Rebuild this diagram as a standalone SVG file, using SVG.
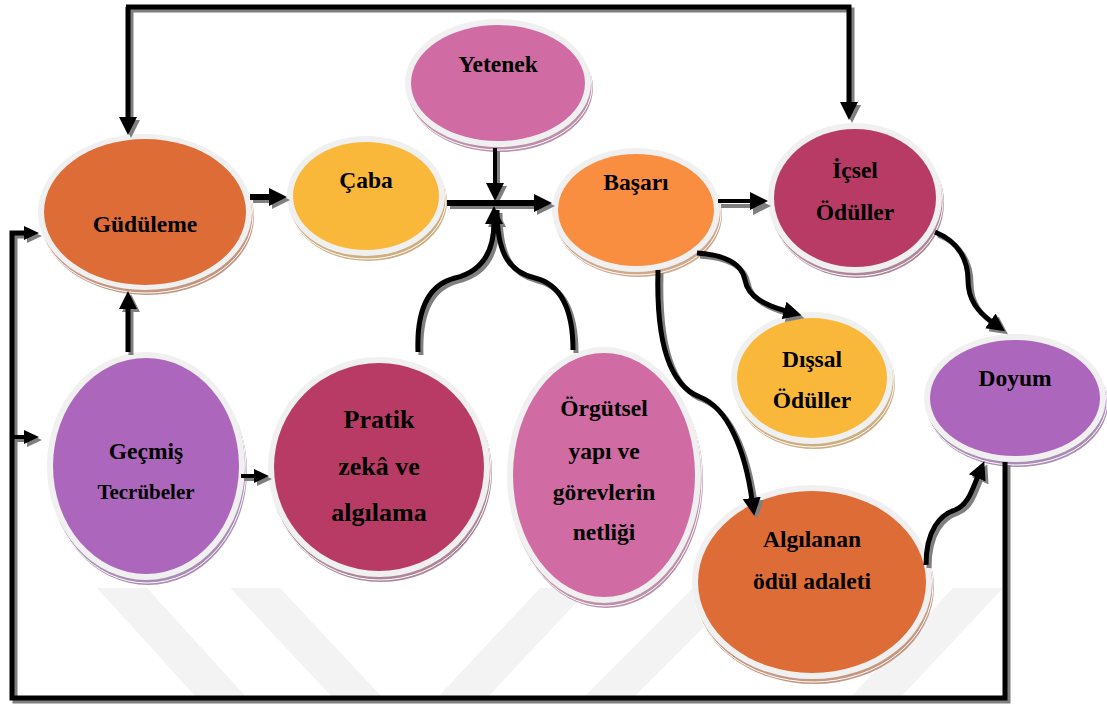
<svg xmlns="http://www.w3.org/2000/svg" width="1107" height="711" viewBox="0 0 1107 711">
<style>
.lbl{font-family:"Liberation Serif","Times New Roman",serif;font-weight:bold;font-size:23.5px;fill:#000;text-anchor:middle}
.ring{fill:#F0F0F0}
.rimw{fill:none;stroke:#FFFFFF;stroke-width:1}
.ln{fill:none;stroke:#000;stroke-linejoin:miter;stroke-linecap:butt}
.sh{fill:none;stroke:#7F7F7F;stroke-linejoin:miter;stroke-linecap:butt}
.wm{fill:#F3F3F3}
</style>
<defs>
<marker id="ah" markerUnits="userSpaceOnUse" markerWidth="20" markerHeight="20" refX="2" refY="9" orient="auto" viewBox="0 0 20 18"><path d="M0,0 L18,9 L0,18 z" fill="#000"/></marker>
<marker id="ahg" markerUnits="userSpaceOnUse" markerWidth="20" markerHeight="20" refX="2" refY="9" orient="auto" viewBox="0 0 20 18"><path d="M0,0 L18,9 L0,18 z" fill="#7F7F7F"/></marker>
<marker id="as" markerUnits="userSpaceOnUse" markerWidth="16" markerHeight="16" refX="2" refY="7" orient="auto" viewBox="0 0 16 14"><path d="M0,0 L15,7 L0,14 z" fill="#000"/></marker>
<marker id="asg" markerUnits="userSpaceOnUse" markerWidth="16" markerHeight="16" refX="2" refY="7" orient="auto" viewBox="0 0 16 14"><path d="M0,0 L15,7 L0,14 z" fill="#7F7F7F"/></marker>
</defs>
<rect width="1107" height="711" fill="#FFFFFF"/>
<g id="watermark">
<polygon class="wm" points="97,588 147,588 247,698 197,698"/>
<polygon class="wm" points="230,588 280,588 383,698 333,698"/>
<polygon class="wm" points="437,698 487,698 590,588 540,588"/>
<polygon class="wm" points="583,698 633,698 743,588 693,588"/>
<polygon class="wm" points="850,698 900,698 1003,588 953,588"/>
</g>
<g id="nodes">
<g id="gudulleme">
<ellipse cx="147" cy="217" rx="107" ry="78" fill="#C49783"/>
<ellipse class="rimw" cx="146" cy="215" rx="107" ry="78"/>
<ellipse class="ring" cx="145" cy="212" rx="107" ry="78"/>
<ellipse cx="145" cy="212" rx="101" ry="73" fill="#DE6C37"/>
<text class="lbl" x="145" y="232">Güdüleme</text>
</g>
<g id="caba">
<ellipse cx="368" cy="201" rx="79" ry="60" fill="#CDAE80"/>
<ellipse class="rimw" cx="367" cy="199" rx="79" ry="60"/>
<ellipse class="ring" cx="366" cy="196" rx="79" ry="60"/>
<ellipse cx="366" cy="196" rx="73" ry="54" fill="#F9B83A"/>
<text class="lbl" x="366" y="188">Çaba</text>
</g>
<g id="yetenek">
<ellipse cx="500" cy="88" rx="93" ry="64" fill="#BC8FAA"/>
<ellipse class="rimw" cx="499" cy="86" rx="93" ry="64"/>
<ellipse class="ring" cx="498" cy="83" rx="93" ry="64"/>
<ellipse cx="498" cy="83" rx="87" ry="58" fill="#D06CA3"/>
<text class="lbl" x="498" y="72">Yetenek</text>
</g>
<g id="basari">
<ellipse cx="638" cy="215" rx="84" ry="62" fill="#D0A88C"/>
<ellipse class="rimw" cx="637" cy="213" rx="84" ry="62"/>
<ellipse class="ring" cx="636" cy="210" rx="84" ry="62"/>
<ellipse cx="636" cy="210" rx="78" ry="56" fill="#F98D40"/>
<text class="lbl" x="636" y="190">Başarı</text>
</g>
<g id="icsel">
<ellipse cx="857" cy="203" rx="87" ry="75" fill="#AD8799"/>
<ellipse class="rimw" cx="856" cy="201" rx="87" ry="75"/>
<ellipse class="ring" cx="855" cy="198" rx="87" ry="75"/>
<ellipse cx="855" cy="198" rx="81" ry="69" fill="#B83B66"/>
<text class="lbl" x="855" y="178">İçsel</text>
<text class="lbl" x="855" y="220">Ödüller</text>
</g>
<g id="dissal">
<ellipse cx="814" cy="383" rx="81" ry="66" fill="#CDAE80"/>
<ellipse class="rimw" cx="813" cy="381" rx="81" ry="66"/>
<ellipse class="ring" cx="812" cy="378" rx="81" ry="66"/>
<ellipse cx="812" cy="378" rx="75" ry="60" fill="#F9B83A"/>
<text class="lbl" x="812" y="367">Dışsal</text>
<text class="lbl" x="812" y="408">Ödüller</text>
</g>
<g id="doyum">
<ellipse cx="1017" cy="403" rx="91" ry="64" fill="#AB8CB4"/>
<ellipse class="rimw" cx="1016" cy="401" rx="91" ry="64"/>
<ellipse class="ring" cx="1015" cy="398" rx="91" ry="64"/>
<ellipse cx="1015" cy="398" rx="85" ry="58" fill="#AC66BC"/>
<text class="lbl" x="1015" y="386">Doyum</text>
</g>
<g id="gecmis">
<ellipse cx="148" cy="471" rx="99" ry="114" fill="#AB8CB4"/>
<ellipse class="rimw" cx="147" cy="469" rx="99" ry="114"/>
<ellipse class="ring" cx="146" cy="466" rx="99" ry="114"/>
<ellipse cx="146" cy="466" rx="93" ry="108" fill="#AC66BC"/>
<text class="lbl" x="146" y="459">Geçmiş</text>
<text class="lbl" x="146" y="499" style="font-size:21px">Tecrübeler</text>
</g>
<g id="pratik">
<ellipse cx="381" cy="472" rx="111" ry="110" fill="#AD8799"/>
<ellipse class="rimw" cx="380" cy="470" rx="111" ry="110"/>
<ellipse class="ring" cx="379" cy="467" rx="111" ry="110"/>
<ellipse cx="379" cy="467" rx="105" ry="104" fill="#B83B66"/>
<text class="lbl" x="379" y="428" style="font-size:26px">Pratik</text>
<text class="lbl" x="379" y="475" style="font-size:26px">zekâ ve</text>
<text class="lbl" x="379" y="521" style="font-size:26px">algılama</text>
</g>
<g id="orgutsel">
<ellipse cx="606" cy="480" rx="97" ry="128" fill="#BC8FAA"/>
<ellipse class="rimw" cx="605" cy="478" rx="97" ry="128"/>
<ellipse class="ring" cx="604" cy="475" rx="97" ry="128"/>
<ellipse cx="604" cy="475" rx="91" ry="122" fill="#D06CA3"/>
<text class="lbl" x="604" y="416">Örgütsel</text>
<text class="lbl" x="604" y="459">yapı ve</text>
<text class="lbl" x="604" y="500">görevlerin</text>
<text class="lbl" x="604" y="540">netliği</text>
</g>
<g id="algilanan">
<ellipse cx="814" cy="587" rx="120" ry="97" fill="#C49783"/>
<ellipse class="rimw" cx="813" cy="585" rx="120" ry="97"/>
<ellipse class="ring" cx="812" cy="582" rx="120" ry="97"/>
<ellipse cx="812" cy="582" rx="114" ry="91" fill="#DE6C37"/>
<text class="lbl" x="812" y="547">Algılanan</text>
<text class="lbl" x="812" y="589">ödül adaleti</text>
</g>
</g>
<g id="connectors">
<g transform="translate(3,3)">
<path class="sh" stroke-width="5" d="M128,7 L128,119" marker-end="url(#ahg)"/>
<path class="sh" stroke-width="5" d="M126,7 L849,7 L849,104" marker-end="url(#ahg)"/>
<path class="sh" stroke-width="6" d="M250,197 L271,197" marker-end="url(#ahg)"/>
<path class="sh" stroke-width="6" d="M447,203 L536,203" marker-end="url(#ahg)"/>
<path class="sh" stroke-width="4" d="M495,148 L495,185" marker-end="url(#ahg)"/>
<path class="sh" stroke-width="5" d="M418,352 C416,300 435,283 455,278 C480,272 494,255 494,222" marker-end="url(#ahg)"/>
<path class="sh" stroke-width="5" d="M573,350 C573,300 555,283 535,278 C510,272 497,255 497,210"/>
<path class="sh" stroke-width="4" d="M718,203 L752,203" marker-end="url(#ahg)"/>
<path class="sh" stroke-width="5" d="M697,253 C728,255 742,265 745,280 C748,298 768,306 786,311" marker-end="url(#ahg)"/>
<path class="sh" stroke-width="5" d="M935,232 C960,242 968,262 968,280 C968,300 978,312 992,322" marker-end="url(#ahg)"/>
<path class="sh" stroke-width="5" d="M658,270 C656,340 668,385 700,397 C728,408 745,450 752,500" marker-end="url(#ahg)"/>
<path class="sh" stroke-width="5" d="M926,565 C926,530 940,515 955,510 C968,505 972,490 978,476" marker-end="url(#ahg)"/>
<path class="sh" stroke-width="5" d="M1005,462 L1005,698 L12,698 L12,233 L26,233" marker-end="url(#asg)"/>
<path class="sh" stroke-width="4" d="M12,437 L26,437" marker-end="url(#asg)"/>
<path class="sh" stroke-width="5" d="M128,352 L128,307" marker-end="url(#ahg)"/>
<path class="sh" stroke-width="4" d="M241,476 L256,476" marker-end="url(#asg)"/>
</g>
<path class="ln" stroke-width="5" d="M128,7 L128,119" marker-end="url(#ah)"/>
<path class="ln" stroke-width="5" d="M126,7 L849,7 L849,104" marker-end="url(#ah)"/>
<path class="ln" stroke-width="6" d="M250,197 L271,197" marker-end="url(#ah)"/>
<path class="ln" stroke-width="6" d="M447,203 L536,203" marker-end="url(#ah)"/>
<path class="ln" stroke-width="4" d="M495,148 L495,185" marker-end="url(#ah)"/>
<path class="ln" stroke-width="5" d="M418,352 C416,300 435,283 455,278 C480,272 494,255 494,222" marker-end="url(#ah)"/>
<path class="ln" stroke-width="5" d="M573,350 C573,300 555,283 535,278 C510,272 497,255 497,210"/>
<path class="ln" stroke-width="4" d="M718,201 L752,201" marker-end="url(#ah)"/>
<path class="ln" stroke-width="5" d="M697,253 C728,255 742,265 745,280 C748,298 768,306 786,311" marker-end="url(#ah)"/>
<path class="ln" stroke-width="5" d="M935,232 C960,242 968,262 968,280 C968,300 978,312 992,322" marker-end="url(#ah)"/>
<path class="ln" stroke-width="5" d="M658,270 C656,340 668,385 700,397 C728,408 745,450 752,500" marker-end="url(#ah)"/>
<path class="ln" stroke-width="5" d="M926,565 C926,530 940,515 955,510 C968,505 972,490 978,476" marker-end="url(#ah)"/>
<path class="ln" stroke-width="5" d="M1005,462 L1005,698 L12,698 L12,233 L26,233" marker-end="url(#as)"/>
<path class="ln" stroke-width="4" d="M12,437 L26,437" marker-end="url(#as)"/>
<path class="ln" stroke-width="5" d="M128,352 L128,307" marker-end="url(#ah)"/>
<path class="ln" stroke-width="4" d="M241,476 L256,476" marker-end="url(#as)"/>
</g>
</svg>
